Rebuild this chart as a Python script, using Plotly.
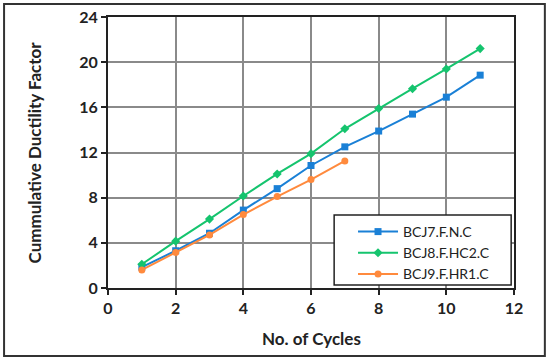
import plotly.graph_objects as go

cycles_a = [1, 2, 3, 4, 5, 6, 7, 8, 9, 10, 11]
bcj7 = [1.85, 3.3, 4.85, 6.9, 8.8, 10.85, 12.5, 13.9, 15.4, 16.9, 18.85]
bcj8 = [2.1, 4.15, 6.1, 8.15, 10.1, 11.9, 14.1, 15.9, 17.65, 19.4, 21.2]
cycles_c = [1, 2, 3, 4, 5, 6, 7]
bcj9 = [1.6, 3.15, 4.7, 6.5, 8.1, 9.6, 11.25]
names = ["BCJ7.F.N.C", "BCJ8.F.HC2.C", "BCJ9.F.HR1.C"]
x_ticks = [0, 2, 4, 6, 8, 10, 12]
y_ticks = [0, 4, 8, 12, 16, 20, 24]
x_title = "No. of Cycles"
y_title = "Cummulative Ductility Factor"

colors = ["#1a80d6", "#15c46e", "#ff8a3d"]
symbols = ["square", "diamond", "circle"]

fig = go.Figure()
for xs, ys, nm, c, s in zip([cycles_a, cycles_a, cycles_c], [bcj7, bcj8, bcj9], names, colors, symbols):
    fig.add_trace(go.Scatter(x=xs, y=ys, name=nm, mode="lines+markers",
                             line=dict(color=c, width=2),
                             marker=dict(color=c, symbol=s, size=7)))

axis_common = dict(showline=True, linecolor="#222", linewidth=2, mirror=True,
                   showgrid=True, gridcolor="#8a8a8a", gridwidth=1.5,
                   ticks="outside", ticklen=5, tickwidth=1.5, tickcolor="#222",
                   zeroline=False, automargin=False,
                   tickfont=dict(family="Lato", size=16, color="#222", weight="bold"))

fig.update_xaxes(range=[0, 12], tickvals=x_ticks, **axis_common)
fig.update_yaxes(range=[0, 24], tickvals=y_ticks, **axis_common)

title_font = dict(family="Lato", size=17, color="#222", weight="bold")
fig.update_layout(
    width=550, height=362,
    margin=dict(l=108, r=36, t=17, b=74, autoexpand=False),
    paper_bgcolor="white", plot_bgcolor="white",
    showlegend=True,
    legend=dict(x=0.6035, y=0.2657, xanchor="left", yanchor="top",
                bgcolor="rgba(0,0,0,0)", borderwidth=0,
                font=dict(family="Lato", size=14, color="#222"),
                itemwidth=40),
    annotations=[
        dict(text=x_title, xref="paper", yref="paper", x=0.5, y=-0.185,
             xanchor="center", yanchor="middle", showarrow=False, font=title_font),
        dict(text=y_title, xref="paper", yref="paper", x=-0.180, y=0.5,
             xanchor="center", yanchor="middle", textangle=-90, showarrow=False, font=title_font),
    ],
    shapes=[
        dict(type="rect", xref="paper", yref="paper",
             x0=-0.256, x1=1.076, y0=-0.251, y1=1.048,
             line=dict(color="#333", width=2)),
        dict(type="rect", xref="paper", yref="paper", layer="above",
             x0=0.557, x1=0.993, y0=0.011, y1=0.269,
             fillcolor="white", line=dict(color="#222", width=1.5)),
    ]
)

fig.write_html("out.html", config={"displayModeBar": False},
               post_script="document.body.style.margin='0';document.body.style.overflow='hidden';")
